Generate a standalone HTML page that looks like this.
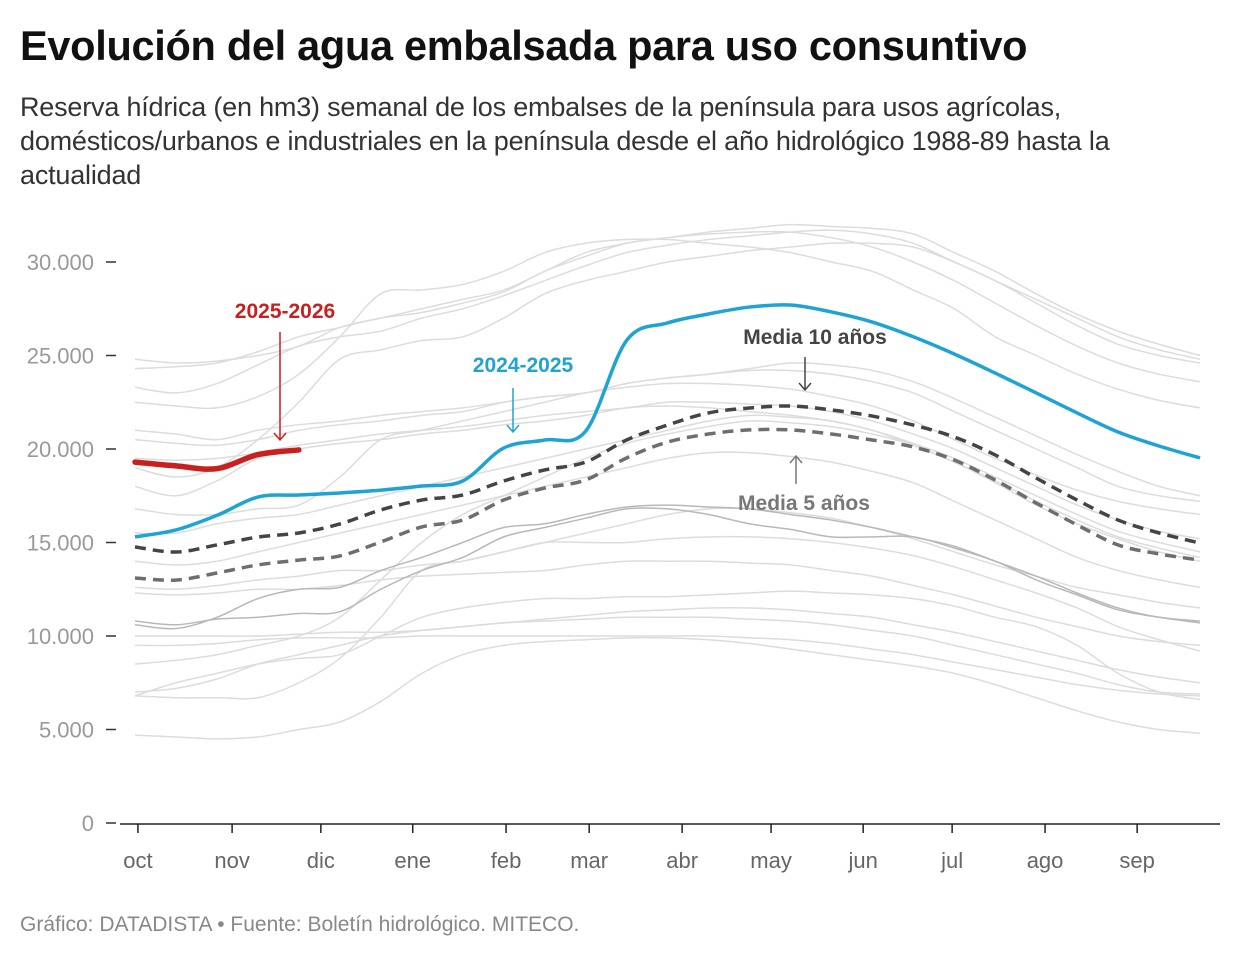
<!DOCTYPE html>
<html><head><meta charset="utf-8"><style>
body{margin:0;background:#fff;font-family:"Liberation Sans",Arial,sans-serif;}
#wrap{position:relative;width:1240px;height:960px;overflow:hidden}
h1{position:absolute;left:20px;top:22px;margin:0;font-size:41.5px;font-weight:bold;color:#111;letter-spacing:-0.3px}
.sub{position:absolute;left:20px;top:90px;width:1220px;font-size:27px;line-height:34px;color:#333;white-space:nowrap;letter-spacing:-0.2px}
.foot{position:absolute;left:20px;top:913px;font-size:21px;color:#888}
svg{position:absolute;left:0;top:0}
</style></head><body>
<div id="wrap">
<h1>Evolución del agua embalsada para uso consuntivo</h1>
<div class="sub">Reserva hídrica (en hm3) semanal de los embalses de la península para usos agrícolas,<br>domésticos/urbanos e industriales en la península desde el año hidrológico 1988-89 hasta la<br>actualidad</div>
<div class="foot">Gráfico: DATADISTA • Fuente: Boletín hidrológico. MITECO.</div>
<svg id="chart" width="1240" height="960"></svg>
</div>
<script>
const months = ["oct","nov","dic","ene","feb","mar","abr","may","jun","jul","ago","sep"];
const monthPos = [0.14,4.65,8.9,13.3,17.77,21.75,26.2,30.46,34.87,39.13,43.58,47.99];
const yTicks = [0,5000,10000,15000,20000,25000,30000];
const yTickLabels = ["0","5.000","10.000","15.000","20.000","25.000","30.000"];
const blue = [15300,15670,16450,17430,17540,17650,17800,18020,18290,20050,20480,20950,25800,26740,27220,27590,27700,27330,26790,26000,25080,24060,23000,21930,20910,20160,19520];
const red = [19300,19100,18950,19700,19950];
const media10 = [14760,14490,14870,15290,15510,15990,16740,17270,17540,18290,18880,19300,20480,21280,21930,22190,22300,22090,21760,21280,20640,19680,18450,17270,16200,15510,14970];
const media5 = [13100,12990,13370,13800,14060,14280,15030,15830,16200,17270,17910,18340,19520,20370,20800,21020,21020,20800,20480,20110,19410,18340,17110,15940,14870,14390,14060];
const hist = [
[24.8,24.6,24.7,25.0,25.5,26.5,27,27.5,28,28.5,29.5,30.5,31,31.3,31.6,31.8,32,31.9,31.8,31.5,30.5,29.5,28.3,27.2,26.3,25.6,25.0],
[24.3,24.4,24.6,25.2,26,26.5,27,27.3,27.8,28.4,29.5,30.3,31,31.3,31.5,31.6,31.6,31.3,30.8,30,29,27.8,26.6,25.5,24.6,24,23.6],
[23.3,23,23.5,24.5,25.5,26,26.3,27,27.5,28.2,29,29.8,30.5,30.9,31.2,31.4,31.6,31.7,31.5,31,30,29,27.8,26.6,25.6,25,24.6],
[22.5,22.3,22.2,22.8,24,26,28.3,28.5,28.8,29.5,30.5,31,31.2,31.2,31,30.8,30.5,30,29.5,28.5,27.5,26,25,24,23.2,22.6,22.2],
[21,20.8,20.5,21,21.3,21.5,21.8,22,22.2,22.5,22.8,23,23.5,23.8,24,24.2,24.2,24,23.6,23,22,21,20,19,18,17.5,17.2],
[19.5,19.4,19.5,19.8,20.2,20.5,20.8,21,21.2,21.5,21.8,22,22.2,22.5,22.5,22.4,22.3,22,21.5,20.8,20,19,18,17,16.2,15.6,15.2],
[18,17.5,18.3,19.5,20,20.3,20.5,20.8,21,21.3,21.5,21.8,22.2,22.3,22.2,22,21.8,21.5,21,20.3,19.5,18.5,17.5,16.5,15.6,15,14.5],
[16.8,16.5,16.5,16.8,17,18.5,20.5,21,21.5,22,22.5,23,23.3,23.5,23.5,23.4,23.2,22.8,22.3,21.5,20.5,19.5,18.6,17.8,17.2,16.8,16.5],
[15.5,15.5,16,16.3,16.5,17,17.5,18,18.5,19,19.5,20,20.5,21,21.5,21.8,21.7,21.5,21,20.2,19.3,18.2,17,16,15.2,14.5,14],
[14,13.8,14,14.5,15,15.5,16,16.5,17,17.5,18,18.5,19,19.5,19.8,19.8,19.6,19.3,18.8,18.2,17.2,16.2,15.2,14.2,13.5,13,12.6],
[12.6,12.5,12.7,13,13.2,13.5,13.5,13.8,14,14.5,15,15.5,16,16.5,16.8,16.8,16.6,16.3,15.8,15.2,14.5,13.8,13.2,12.6,12.2,11.8,11.5],
[12.3,12.2,12.3,12.5,12.5,12.7,13,13.2,13.3,13.4,13.5,13.8,14,14,14,13.9,13.8,13.5,13.2,12.7,12.2,11.6,11,10.5,10,9.7,9.5],
[10,10,10,10,10.1,10.2,10.2,10.3,10.5,10.7,10.9,11.1,11.3,11.4,11.5,11.5,11.4,11.2,11,10.6,10.2,9.7,9.2,8.7,8.2,7.8,7.5],
[9.5,9.5,9.6,9.8,9.9,9.9,9.9,10,10,10,10,10,10,10,10,9.9,9.8,9.6,9.3,9,8.6,8.2,7.8,7.4,7.1,6.9,6.8],
[6.8,7.5,8,8.5,8.8,9,10,11,11.5,11.8,12,12,12.1,12.1,12.2,12.3,12.4,12.3,12.2,12,11.6,11,10.5,9.5,8,7,6.6],
[7,7.2,7.7,8.5,9,9.5,10,10.3,10.5,10.7,10.8,10.9,11,11,11,10.9,10.8,10.6,10.3,10,9.5,9,8.5,8,7.4,7,6.9],
[4.7,4.6,4.5,4.6,5,5.4,6.5,8,9,9.5,9.7,9.8,9.9,9.9,9.8,9.6,9.3,9,8.7,8.4,8,7.4,6.7,6,5.4,5,4.8],
[6.8,6.7,6.7,6.7,7.5,8.8,11,13.5,14,14.5,15,15,15,15.2,15.3,15.3,15.2,15,14.7,14.3,13.7,13,12.3,11.5,10.5,9.8,9.2],
[8.5,8.7,9,9.5,10,11,13,15,16.5,17.5,18.5,19.5,20.3,20.8,21.2,21.5,21.4,21.2,20.8,20.2,19.3,18.3,17.2,16.2,15.3,14.7,14.2],
[20.5,20.3,20.2,20.5,21,21.3,21.5,21.8,22,22.5,22.8,23,23.5,23.8,24,24.3,24.6,24.5,24.2,23.6,22.7,21.7,20.7,19.7,18.8,18,17.5],
[19,18.5,19,20.5,22.5,24.8,25.3,25.8,26,27,28.3,29,29.5,30,30.3,30.6,30.8,31,31,30.8,30,29,28,27,26,25.3,24.8]
];
const histDark = [
[10.8,10.6,10.9,11,11.2,11.3,12.5,13.5,14.2,15.3,15.8,16.3,16.8,16.8,16.5,16,15.7,15.3,15.3,15.3,14.7,14,13,12.2,11.4,11,10.7],
[10.6,10.4,11,12,12.5,12.6,13.5,14.2,15,15.8,16,16.5,16.9,17,16.9,16.8,16.5,16.2,15.8,15.3,14.8,14,13.2,12.3,11.5,11,10.8]
];
const NS="http://www.w3.org/2000/svg";
const svg=document.getElementById('chart');
const X0=135,X1=1200,Y0=823,PXPER=93.5/5000;
const xi=i=>X0+i*(X1-X0)/26;
const xw=w=>X0+w*(X1-X0)/51;
const y=v=>Y0-v*PXPER;
function mk(tag,attrs){const e=document.createElementNS(NS,tag);for(const k in attrs)e.setAttribute(k,attrs[k]);svg.appendChild(e);return e;}
function pathD(vals){const p=vals.map((v,i)=>[xi(i),y(v)]);let d=`M${p[0][0]},${p[0][1]}`;
for(let i=0;i<p.length-1;i++){const a=p[i-1]||p[i],b=p[i],c=p[i+1],e=p[i+2]||c;
d+=` C${b[0]+(c[0]-a[0])/6},${b[1]+(c[1]-a[1])/6} ${c[0]-(e[0]-b[0])/6},${c[1]-(e[1]-b[1])/6} ${c[0]},${c[1]}`;}return d;}
yTicks.forEach((t,i)=>{
const tk=mk('line',{x1:106,x2:116,y1:y(t),y2:y(t),stroke:'#333','stroke-width':1.5});


const tx=mk('text',{x:94,y:y(t)+8,'text-anchor':'end','font-size':22,fill:'#999','font-family':'Liberation Sans, sans-serif'});
tx.textContent=yTickLabels[i];


});
const ax=mk('line',{x1:120,x2:1220,y1:824,y2:824,stroke:'#222','stroke-width':1.5});


months.forEach((m,i)=>{const x=xw(monthPos[i]);
const tk=mk('line',{x1:x,x2:x,y1:824,y2:833,stroke:'#222','stroke-width':1.5});


const tx=mk('text',{x:x,y:868,'text-anchor':'middle','font-size':22,fill:'#666','font-family':'Liberation Sans, sans-serif'});
tx.textContent=m;


});
hist.forEach(s=>{const p=mk('path',{d:pathD(s.map(v=>v*1000)),fill:'none',stroke:'#dcdcdc','stroke-width':1.5});

});
histDark.forEach(s=>{const p=mk('path',{d:pathD(s.map(v=>v*1000)),fill:'none',stroke:'#b8b8b8','stroke-width':1.5});

});
let p;
p=mk('path',{d:pathD(media5),fill:'none',stroke:'#6e6e6e','stroke-width':3.5,'stroke-dasharray':'11,7'});


p=mk('path',{d:pathD(media10),fill:'none',stroke:'#444','stroke-width':3.5,'stroke-dasharray':'11,7'});


p=mk('path',{d:pathD(blue),fill:'none',stroke:'#1ea3d4','stroke-width':3.5});


p=mk('path',{d:pathD(red),fill:'none',stroke:'#c8201e','stroke-width':5.5,'stroke-linecap':'round'});


function label(x,yy,t,c,name){const e=mk('text',{x:x,y:yy,'text-anchor':'middle','font-size':21,'font-weight':'bold',fill:c,'font-family':'Liberation Sans, sans-serif'});e.textContent=t;

}
function arrow(x,ya,yb,c,name){const g=document.createElementNS(NS,'g');svg.appendChild(g);


const d=yb>ya?1:-1;
g.innerHTML=`<line x1="${x}" x2="${x}" y1="${ya}" y2="${yb}" stroke="${c}" stroke-width="1.5"/><polyline points="${x-6},${yb-7*d} ${x},${yb} ${x+6},${yb-7*d}" fill="none" stroke="${c}" stroke-width="1.5"/>`;}
label(285,318,'2025-2026','#c8201e','label-2025-2026');arrow(280,332,440,'#c8201e','arrow-2025-2026');
label(523,372,'2024-2025','#1ea3d4','label-2024-2025');arrow(513,388,432,'#1ea3d4','arrow-2024-2025');
label(815,344,'Media 10 años','#444','label-media-10');arrow(805,357,390,'#444','arrow-media-10');
label(804,510,'Media 5 años','#777','label-media-5');arrow(796,484,456,'#777','arrow-media-5');
</script>
</body></html>
